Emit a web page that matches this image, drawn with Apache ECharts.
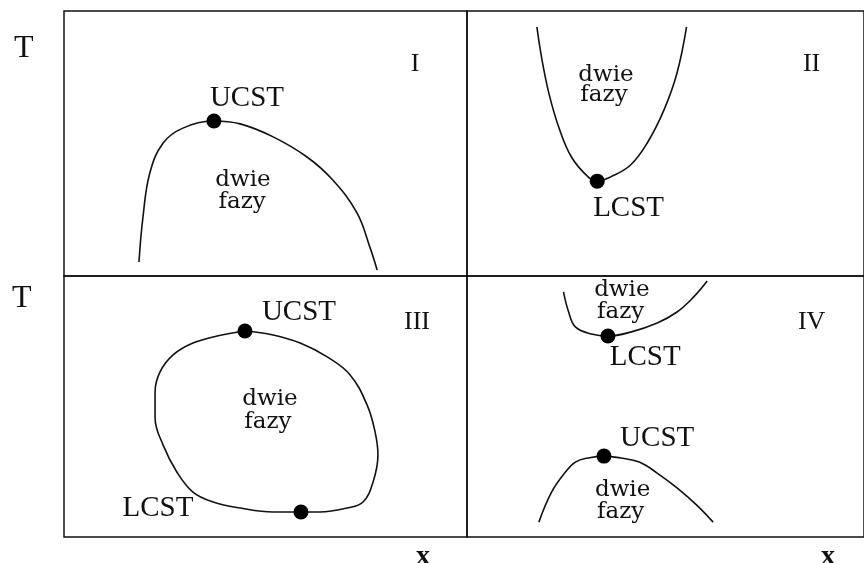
<!DOCTYPE html>
<html>
<head>
<meta charset="utf-8">
<script src="https://cdn.jsdelivr.net/npm/echarts@6/dist/echarts.min.js"></script>
<style>
  html, body { margin: 0; padding: 0; background: #ffffff; }
  #chart { width: 864px; height: 563px; }
</style>
</head>
<body>
<div id="chart"></div>
<script>
// Phase diagrams: composition x (0..1) vs temperature T (relative 0..1) in four panels.

// Panel I: single binodal with an upper critical solution temperature
const curveI = [
  [0.186, 0.053], [0.196, 0.223], [0.213, 0.389], [0.246, 0.502], [0.295, 0.558],
  [0.372, 0.585], [0.437, 0.574], [0.519, 0.525], [0.603, 0.449], [0.667, 0.362],
  [0.727, 0.238], [0.759, 0.109], [0.777, 0.023]
];
const criticalI = [[0.372, 0.585]];

// Panel II: binodal with a lower critical solution temperature
const curveII = [
  [0.176, 0.940], [0.189, 0.815], [0.206, 0.691], [0.231, 0.562], [0.263, 0.449],
  [0.305, 0.374], [0.328, 0.358], [0.362, 0.374], [0.412, 0.419], [0.454, 0.502],
  [0.496, 0.626], [0.529, 0.766], [0.553, 0.940]
];
const criticalII = [[0.328, 0.358]];

// Panel III: closed loop with both UCST (top) and LCST (bottom)
const curveIII = [
  [0.449, 0.789], [0.519, 0.774], [0.586, 0.743], [0.653, 0.690], [0.710, 0.621],
  [0.752, 0.506], [0.772, 0.402], [0.779, 0.314], [0.767, 0.211], [0.742, 0.134],
  [0.702, 0.111], [0.635, 0.096], [0.588, 0.096], [0.519, 0.096], [0.437, 0.111],
  [0.370, 0.134], [0.320, 0.172], [0.280, 0.249], [0.246, 0.352], [0.226, 0.456],
  [0.226, 0.556], [0.238, 0.632], [0.270, 0.697], [0.320, 0.743], [0.380, 0.770],
  [0.449, 0.789]
];
const criticalIII = [[0.449, 0.789], [0.588, 0.096]];

// Panel IV: separate LCST (upper) and UCST (lower) branches
const curveIVupper = [
  [0.243, 0.939], [0.256, 0.862], [0.273, 0.805], [0.313, 0.778], [0.355, 0.770],
  [0.412, 0.785], [0.479, 0.820], [0.529, 0.862], [0.571, 0.920], [0.605, 0.981]
];
const curveIVlower = [
  [0.181, 0.057], [0.213, 0.172], [0.248, 0.249], [0.273, 0.287], [0.305, 0.303],
  [0.345, 0.310], [0.387, 0.303], [0.434, 0.287], [0.479, 0.245], [0.529, 0.188],
  [0.578, 0.123], [0.620, 0.057]
];
const criticalIV = [[0.355, 0.770], [0.345, 0.310]];

// Critical-point names per panel: [x, T, text]
const criticalLabels = [
  [[0.454, 0.672, 'UCST']],
  [[0.407, 0.257, 'LCST']],
  [[0.583, 0.862, 'UCST'], [0.233, 0.111, 'LCST']],
  [[0.449, 0.690, 'LCST'], [0.479, 0.379, 'UCST']]
];
// Panel numbers
const panelLabels = [
  [[0.871, 0.800, 'I']],
  [[0.868, 0.800, 'II']],
  [[0.876, 0.824, 'III']],
  [[0.868, 0.824, 'IV']]
];
// Two-phase region captions
const regionLabels = [
  [[0.444, 0.362, 'dwie'], [0.442, 0.279, 'fazy']],
  [[0.350, 0.758, 'dwie'], [0.345, 0.683, 'fazy']],
  [[0.511, 0.529, 'dwie'], [0.506, 0.441, 'fazy']],
  [[0.390, 0.946, 'dwie'], [0.387, 0.862, 'fazy'], [0.392, 0.180, 'dwie'], [0.387, 0.096, 'fazy']]
];

const ink = '#111111';
const serif = '"Liberation Serif", "DejaVu Serif", serif';
const caption = '"DejaVu Serif", serif';

const grids = [
  { left: 64, top: 11, width: 403, height: 265 },
  { left: 467, top: 11, width: 403, height: 265 },
  { left: 64, top: 276, width: 403, height: 261 },
  { left: 467, top: 276, width: 403, height: 261 }
].map(g => Object.assign(g, { show: true, borderColor: ink, borderWidth: 1.5, backgroundColor: 'transparent' }));

const axisBase = { type: 'value', min: 0, max: 1, show: false };
const xAxes = grids.map((g, i) => Object.assign({ gridIndex: i }, axisBase));
const yAxes = grids.map((g, i) => Object.assign({ gridIndex: i }, axisBase));

function curve(data, i) {
  return {
    type: 'line', xAxisIndex: i, yAxisIndex: i, data: data,
    smooth: 0.4, showSymbol: false, symbol: 'none',
    lineStyle: { color: ink, width: 1.6 }, silent: true
  };
}
function dots(data, i) {
  return {
    type: 'scatter', xAxisIndex: i, yAxisIndex: i, data: data,
    symbol: 'circle', symbolSize: 15, itemStyle: { color: '#000', opacity: 1 }, z: 5, silent: true
  };
}
function texts(data, i, font, size) {
  return {
    type: 'scatter', xAxisIndex: i, yAxisIndex: i, data: data,
    symbolSize: 0, silent: true, z: 6, itemStyle: { opacity: 1 },
    label: {
      show: true, position: 'inside', formatter: p => p.data[2],
      color: ink, fontFamily: font, fontSize: size
    }
  };
}

const series = [
  curve(curveI, 0), curve(curveII, 1), curve(curveIII, 2),
  curve(curveIVupper, 3), curve(curveIVlower, 3),
  dots(criticalI, 0), dots(criticalII, 1), dots(criticalIII, 2), dots(criticalIV, 3)
];
criticalLabels.forEach((d, i) => series.push(texts(d, i, serif, 29)));
panelLabels.forEach((d, i) => series.push(texts(d, i, serif, 26)));
regionLabels.forEach((d, i) => series.push(texts(d, i, caption, 23)));

const chart = echarts.init(document.getElementById('chart'), null, { renderer: 'canvas' });
chart.setOption({
  animation: false,
  backgroundColor: '#ffffff',
  grid: grids,
  xAxis: xAxes,
  yAxis: yAxes,
  series: series,
  graphic: [
    { type: 'text', left: 14, top: 33, style: { text: 'T', font: '32px ' + serif, fill: ink } },
    { type: 'text', left: 12, top: 283, style: { text: 'T', font: '32px ' + serif, fill: ink } },
    { type: 'text', left: 416, top: 543, style: { text: 'x', font: 'bold 28px ' + serif, fill: ink } },
    { type: 'text', left: 821, top: 543, style: { text: 'x', font: 'bold 28px ' + serif, fill: ink } }
  ]
});
</script>
</body>
</html>
